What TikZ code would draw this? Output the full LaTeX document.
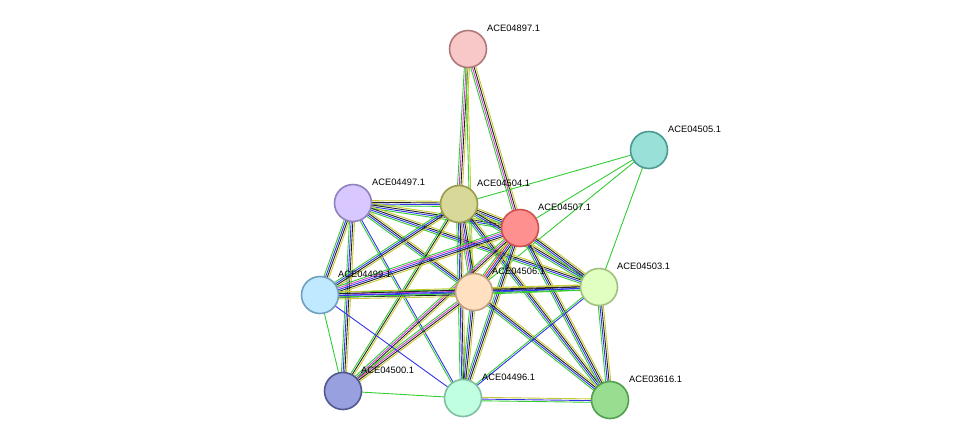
\documentclass[tikz,border=0pt]{standalone}
\usepackage{fontspec}
\setmainfont{Liberation Sans}
\usetikzlibrary{calc}
\definecolor{eg}{HTML}{33CC33}
\definecolor{ey}{HTML}{C8C832}
\definecolor{eb}{HTML}{3333EE}
\definecolor{ek}{HTML}{222222}
\definecolor{em}{HTML}{D040D0}
\definecolor{er}{HTML}{EE3333}
\newcommand\edg[3]{\foreach \c [count=\i] in {#3}{%
 \pgfmathsetmacro\o{(\i-2.5)*1.7}%
 \draw[draw=\c,line width=0.9pt] ($(#1)!\o pt!90:(#2)$) -- ($(#2)!\o pt!-90:(#1)$);}}
\tikzset{prot/.style={circle,minimum size=37pt,inner sep=0pt,line width=1.6pt},
 lab/.style={font=\fontsize{9.3}{11}\selectfont,anchor=south west,inner sep=1pt},
 one/.style={line width=0.9pt}}
\begin{document}
\begin{tikzpicture}[x=1pt,y=-1pt]
\useasboundingbox (0,0) rectangle (975,445);
\coordinate (p897) at (468,49);
\coordinate (p505) at (649,150);
\coordinate (p497) at (353,203);
\coordinate (p504) at (459,204);
\coordinate (p507) at (520,228);
\coordinate (p499) at (320,295);
\coordinate (p506) at (474,292);
\coordinate (p503) at (599,287);
\coordinate (p500) at (343,391);
\coordinate (p496) at (463,398);
\coordinate (p616) at (610,400);
% edges
\edg{p897}{p504}{eg,em,ek,ey}
\edg{p897}{p507}{eg,em,ek,ey}
\edg{p897}{p506}{eg,ey}
\foreach \t in {p504,p507,p506,p503}{\draw[eg,one] (p505)--(\t);}
\edg{p497}{p504}{eg,eb,ek,ey}
\edg{p497}{p507}{eg,eb,ek,ey}
\edg{p497}{p506}{eg,eb,ek,ey}
\edg{p497}{p499}{eg,eb,ek,ey}
\edg{p497}{p503}{eg,eb,ek,ey}
\edg{p497}{p500}{eg,eb,ek,ey}
\edg{p497}{p496}{eg,eb}
\edg{p504}{p507}{eg,eb,ek,ey}
\edg{p504}{p506}{eg,em,eb,ek,ey}
\edg{p504}{p499}{eg,eb,ek,ey}
\edg{p504}{p503}{eg,eb,ek,ey}
\edg{p504}{p500}{eg,ek,ey}
\edg{p504}{p496}{eg,eb,ek,ey}
\edg{p504}{p616}{eg,eb,ek,ey}
\edg{p507}{p506}{eg,er,eb,ek,ey}
\edg{p507}{p499}{eg,em,eb,ek,ey}
\edg{p507}{p503}{eg,eb,ek,ey}
\edg{p507}{p500}{eg,em,ek,ey}
\edg{p507}{p496}{eg,eb,ek,ey}
\edg{p507}{p616}{eg,eb,ek,ey}
\edg{p506}{p499}{eg,em,eb,ek,ey}
\edg{p506}{p503}{eg,eb,ek,ey}
\edg{p506}{p500}{eg,em,ek,ey}
\edg{p506}{p496}{eg,eb,ek,ey}
\edg{p506}{p616}{eg,eb,ek,ey}
\edg{p499}{p503}{eg,eb,ek,ey}
\draw[eg,one] (p499)--(p500);
\draw[eb,one] (p499)--(p496);
\edg{p503}{p616}{eg,eb,ek,ey}
\edg{p503}{p496}{eg,eb}
\draw[eg,one] (p500)--(p496);
\edg{p496}{p616}{eg,eb,ey}
% nodes
\node[prot,fill={rgb,255:red,248;green,200;blue,200},draw={rgb,255:red,176;green,120;blue,120}] (n897) at (p897) {};
\node[prot,fill={rgb,255:red,152;green,224;blue,216},draw={rgb,255:red,74;green,154;blue,144}] (n505) at (p505) {};
\node[prot,fill={rgb,255:red,216;green,200;blue,255},draw={rgb,255:red,144;green,128;blue,192}] (n497) at (p497) {};
\node[prot,fill={rgb,255:red,216;green,216;blue,152},draw={rgb,255:red,154;green,154;blue,80}] (n504) at (p504) {};
\node[prot,fill={rgb,255:red,255;green,144;blue,144},draw={rgb,255:red,208;green,80;blue,80}] (n507) at (p507) {};
\node[prot,fill={rgb,255:red,192;green,232;blue,255},draw={rgb,255:red,112;green,160;blue,192}] (n499) at (p499) {};
\node[prot,fill={rgb,255:red,255;green,224;blue,192},draw={rgb,255:red,192;green,160;blue,128}] (n506) at (p506) {};
\node[prot,fill={rgb,255:red,224;green,255;blue,192},draw={rgb,255:red,160;green,192;blue,128}] (n503) at (p503) {};
\node[prot,fill={rgb,255:red,152;green,160;blue,224},draw={rgb,255:red,80;green,88;blue,144}] (n500) at (p500) {};
\node[prot,fill={rgb,255:red,192;green,255;blue,224},draw={rgb,255:red,128;green,192;blue,160}] (n496) at (p496) {};
\node[prot,fill={rgb,255:red,152;green,221;blue,144},draw={rgb,255:red,80;green,160;blue,80}] (n616) at (p616) {};
% labels
\node[lab] (l897) at ($(p897)+(18,-16)$) {ACE04897.1};
\node[lab] (l505) at ($(p505)+(18,-16)$) {ACE04505.1};
\node[lab] (l497) at ($(p497)+(18,-16)$) {ACE04497.1};
\node[lab] (l504) at ($(p504)+(17,-16)$) {ACE04504.1};
\node[lab] (l507) at ($(p507)+(17,-16)$) {ACE04507.1};
\node[lab] (l499) at ($(p499)+(17,-16)$) {ACE04499.1};
\node[lab] (l506) at ($(p506)+(17,-16)$) {ACE04506.1};
\node[lab] (l503) at ($(p503)+(17,-16)$) {ACE04503.1};
\node[lab] (l500) at ($(p500)+(17,-16)$) {ACE04500.1};
\node[lab] (l496) at ($(p496)+(18,-16)$) {ACE04496.1};
\node[lab] (l616) at ($(p616)+(18,-16)$) {ACE03616.1};
\end{tikzpicture}
\end{document}
